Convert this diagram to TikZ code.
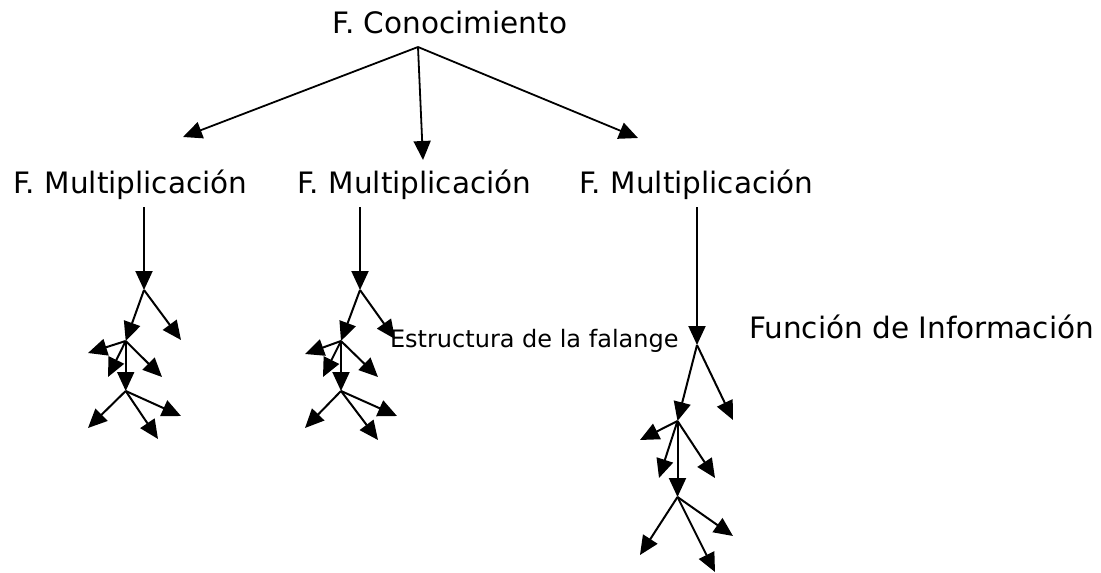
\documentclass[tikz,border=0pt]{standalone}
\usepackage{fontspec}
\setmainfont{DejaVu Sans}
\usetikzlibrary{arrows.meta}
\begin{document}
\begin{tikzpicture}[x=1pt,y=-1pt,
  arr/.style={draw=black,line width=2pt,-{Triangle[length=19pt,width=17pt]}},
  toparr/.style={draw=black,line width=1.8pt,-{Triangle[length=19pt,width=17pt]}},
  lbl/.style={inner sep=0pt,anchor=base,font=\fontsize{29.5}{35}\selectfont},
  small/.style={inner sep=0pt,anchor=base,font=\fontsize{24}{28}\selectfont}]
\useasboundingbox[fill=white] (0,0) rectangle (1101,573);
% texts
\node[lbl] (root) at (450,33) {F. Conocimiento};
\node[lbl] (m1) at (130.5,193) {F. Multiplicación};
\node[lbl] (m2) at (414.5,193) {F. Multiplicación};
\node[lbl] (m3) at (696.5,193) {F. Multiplicación};
\node[lbl] (fi) at (921.5,338) {Función de Información};
\node[small] (ef) at (534.3,347) {Estructura de la falange};
% top connectors
\coordinate (r) at (418,47);
\coordinate (t1) at (183,137);
\coordinate (t2) at (423,160);
\coordinate (t3) at (638,138);
\draw[toparr] (r) -- (t1);
\draw[toparr] (r) -- (t2);
\draw[toparr] (r) -- (t3);
% left tree
\coordinate (s1) at (144,207);
\coordinate (a1) at (144,290);
\coordinate (b1) at (125.7,341);
\coordinate (a1r) at (181,340);
\coordinate (b1l) at (88,353);
\coordinate (b1dl) at (108,377);
\coordinate (c1) at (125.7,391);
\coordinate (b1dr) at (162,377);
\coordinate (c1l) at (88,428);
\coordinate (c1d) at (158,439);
\coordinate (c1r) at (181,416);
\draw[arr] (s1) -- (a1);
\draw[arr] (a1) -- (b1);
\draw[arr] (a1) -- (a1r);
\draw[arr] (b1) -- (b1l);
\draw[arr] (b1) -- (b1dl);
\draw[arr] (b1) -- (c1);
\draw[arr] (b1) -- (b1dr);
\draw[arr] (c1) -- (c1l);
\draw[arr] (c1) -- (c1d);
\draw[arr] (c1) -- (c1r);
% middle tree
\coordinate (s2) at (360,207);
\coordinate (a2) at (360,290);
\coordinate (b2) at (341,341);
\coordinate (a2r) at (395,339);
\coordinate (b2l) at (305,354);
\coordinate (b2dl) at (323,377);
\coordinate (c2) at (341,391);
\coordinate (b2dr) at (378,377);
\coordinate (c2l) at (305,428);
\coordinate (c2d) at (378,440);
\coordinate (c2r) at (397,416);
\draw[arr] (s2) -- (a2);
\draw[arr] (a2) -- (b2);
\draw[arr] (a2) -- (a2r);
\draw[arr] (b2) -- (b2l);
\draw[arr] (b2) -- (b2dl);
\draw[arr] (b2) -- (c2);
\draw[arr] (b2) -- (b2dr);
\draw[arr] (c2) -- (c2l);
\draw[arr] (c2) -- (c2d);
\draw[arr] (c2) -- (c2r);
% right tree
\coordinate (s3) at (697,207);
\coordinate (a3) at (697,345);
\coordinate (b3) at (677.5,421);
\coordinate (a3r) at (733,420);
\coordinate (b3l) at (640,440);
\coordinate (b3dl) at (659,478);
\coordinate (c3) at (677.5,497);
\coordinate (b3dr) at (715,478);
\coordinate (c3l) at (640,555);
\coordinate (c3d) at (715,572);
\coordinate (c3r) at (733,536);
\draw[arr] (s3) -- (a3);
\draw[arr] (a3) -- (b3);
\draw[arr] (a3) -- (a3r);
\draw[arr] (b3) -- (b3l);
\draw[arr] (b3) -- (b3dl);
\draw[arr] (b3) -- (c3);
\draw[arr] (b3) -- (b3dr);
\draw[arr] (c3) -- (c3l);
\draw[arr] (c3) -- (c3d);
\draw[arr] (c3) -- (c3r);
\end{tikzpicture}
\end{document}
